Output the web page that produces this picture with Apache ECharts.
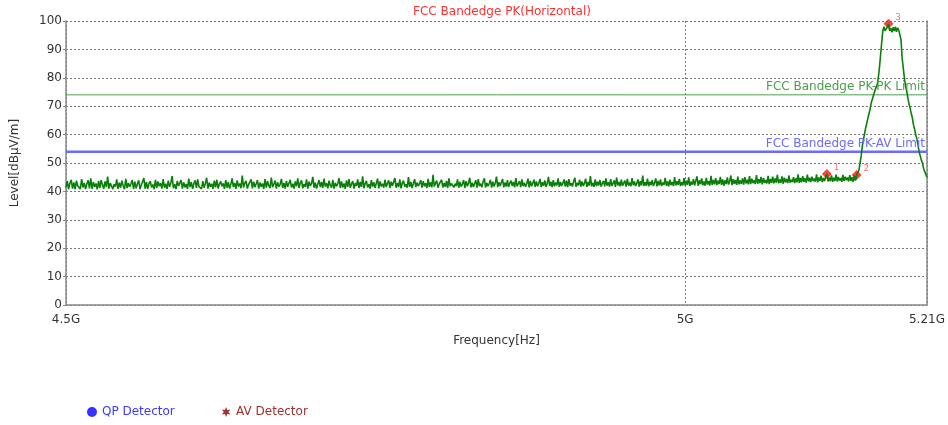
<!DOCTYPE html>
<html>
<head>
<meta charset="utf-8">
<title>FCC Bandedge PK(Horizontal)</title>
<script src="https://cdn.jsdelivr.net/npm/echarts@6/dist/echarts.min.js"></script>
<style>
  html, body { margin: 0; padding: 0; background: #fff; }
  #chart { width: 948px; height: 425px; }
</style>
</head>
<body>
<div id="chart"></div>
<script>
// sweep: 4.5 GHz .. 5.21 GHz, 1 MHz per point
const sweepStart = 4.5e9;
const sweepStep = 1e6;

// trace levels in dBuV/m
const levels = [
  41.3, 43.6, 40.8, 42.9, 44.1, 41.0, 43.2, 40.7, 43.8, 41.9, 42.6, 40.9, 44.3, 41.4, 43.0, 40.8, 42.7, 43.9, 41.1, 44.6, 40.9, 43.3, 41.6, 42.8, 40.7,
  43.7, 41.2, 44.0, 42.3, 40.9, 43.5, 41.5, 45.2, 41.0, 42.9, 43.6, 40.8, 42.5, 41.7, 44.2, 40.9, 43.1, 41.3, 43.8, 42.0, 40.8, 44.4, 41.2, 43.0, 41.6,
  42.7, 44.0, 40.9, 43.4, 41.1, 42.6, 43.9, 40.8, 42.2, 41.5, 44.7, 41.0, 43.3, 40.9, 42.8, 43.6, 41.4, 42.4, 40.8, 44.1, 41.2, 43.5, 41.8, 42.9, 41.0,
  44.3, 41.3, 42.7, 40.9, 43.8, 41.6, 43.0, 45.4, 41.1, 42.5, 40.8, 43.7, 41.9, 42.9, 44.0, 41.0, 43.2, 41.4, 42.6, 40.9, 44.5, 41.5, 43.3, 40.9, 42.8,
  43.9, 41.2, 44.2, 41.7, 42.4, 40.9, 43.6, 41.3, 42.9, 44.8, 41.0, 43.1, 41.6, 42.7, 40.9, 43.8, 41.4, 44.1, 41.0, 42.6, 43.5, 41.8, 42.8, 40.9, 44.0,
  41.3, 43.3, 41.0, 42.5, 44.6, 41.5, 43.0, 40.9, 43.9, 41.7, 42.8, 41.1, 45.6, 41.4, 42.9, 43.7, 41.0, 42.4, 41.8, 44.2, 41.1, 43.4, 41.5, 42.7, 44.0,
  41.0, 43.1, 41.6, 42.8, 40.9, 44.3, 41.3, 43.6, 42.0, 41.2, 44.9, 41.5, 42.6, 43.8, 41.0, 43.2, 41.7, 42.5, 44.4, 41.2, 43.0, 41.0, 43.7, 41.6, 42.9,
  44.1, 41.4, 42.7, 41.0, 43.5, 41.8, 44.6, 41.2, 42.9, 43.9, 41.1, 42.6, 41.6, 44.2, 41.0, 43.4, 41.9, 42.8, 45.1, 41.3, 43.1, 41.0, 42.6, 44.0, 41.5,
  43.3, 41.2, 44.5, 41.7, 42.9, 41.1, 43.8, 42.1, 41.3, 44.1, 41.0, 43.0, 41.8, 42.7, 44.7, 41.2, 43.5, 41.4, 42.8, 40.9, 43.9, 41.6, 44.3, 41.3, 42.6,
  43.6, 41.0, 42.9, 41.9, 44.2, 41.2, 43.3, 41.6, 45.3, 41.1, 42.8, 43.7, 41.4, 42.5, 41.0, 44.0, 41.7, 43.2, 41.3, 42.9, 44.5, 41.1, 43.5, 41.8, 42.7,
  41.3, 44.1, 41.6, 42.8, 43.9, 41.2, 43.4, 41.9, 42.6, 44.7, 41.3, 43.0, 41.5, 44.2, 41.1, 42.9, 43.8, 41.7, 42.5, 41.3, 45.0, 41.6, 43.3, 41.2, 42.8,
  44.3, 41.5, 43.1, 41.9, 42.7, 44.0, 41.3, 43.6, 41.8, 42.9, 41.2, 44.4, 41.6, 43.2, 41.4, 45.8, 41.7, 42.9, 43.8, 41.3, 42.6, 41.9, 44.1, 41.4, 43.0,
  41.6, 43.7, 41.2, 44.6, 41.8, 42.8, 43.5, 41.4, 42.7, 41.9, 44.2, 41.3, 43.3, 41.7, 42.6, 44.0, 41.2, 43.6, 41.8, 42.9, 44.8, 41.4, 43.1, 41.6, 42.8,
  43.9, 41.3, 44.3, 41.9, 42.7, 41.5, 43.5, 44.6, 41.4, 43.0, 41.8, 42.8, 44.1, 41.3, 43.4, 41.7, 42.9, 45.2, 41.5, 43.2, 41.9, 42.6, 44.4, 41.4, 43.1,
  41.7, 44.0, 41.5, 42.9, 43.8, 41.9, 43.3, 41.4, 44.7, 41.8, 42.7, 43.6, 41.5, 44.2, 41.9, 43.0, 41.6, 42.8, 44.5, 41.4, 43.7, 41.8, 42.9, 44.1, 41.6,
  43.5, 41.8, 42.9, 44.4, 41.5, 43.2, 42.0, 43.9, 41.6, 42.8, 45.1, 41.9, 43.4, 41.5, 44.0, 41.8, 43.1, 42.1, 44.6, 41.6, 43.3, 41.9, 42.9, 44.2, 41.7,
  43.8, 41.5, 44.3, 42.0, 42.9, 41.7, 43.6, 44.8, 41.6, 43.0, 42.1, 44.1, 41.7, 43.5, 41.9, 42.8, 44.5, 41.6, 43.3, 42.0, 45.4, 41.8, 43.0, 41.6, 44.2,
  41.9, 43.4, 42.1, 44.0, 41.7, 42.9, 43.7, 41.8, 44.6, 42.0, 43.2, 41.7, 44.3, 41.9, 42.8, 43.9, 41.6, 44.9, 42.1, 43.3, 41.8, 44.1, 42.0, 42.9, 43.8,
  41.7, 44.4, 42.0, 43.1, 41.8, 44.7, 42.2, 43.5, 41.9, 42.9, 44.2, 41.7, 43.6, 42.1, 45.6, 41.9, 43.2, 42.0, 44.5, 41.8, 43.4, 42.2, 44.0, 41.9, 43.0,
  44.6, 41.8, 43.7, 42.1, 44.2, 41.9, 43.1, 42.3, 44.8, 42.0, 43.5, 41.8, 44.1, 42.2, 43.3, 41.9, 45.0, 42.1, 43.6, 42.3, 44.4, 41.9, 43.2, 42.1, 44.7,
  42.0, 43.8, 42.3, 44.9, 41.9, 43.4, 42.4, 44.3, 42.1, 43.7, 45.3, 42.0, 43.9, 42.5, 44.6, 42.2, 43.5, 42.0, 44.8, 42.4, 43.6, 42.1, 45.5, 42.3, 44.0,
  42.5, 44.7, 42.2, 43.8, 42.6, 45.1, 42.3, 44.2, 42.0, 43.9, 42.6, 44.9, 42.4, 43.6, 45.6, 42.2, 44.3, 42.7, 44.0, 42.3, 45.2, 42.5, 43.8, 42.7, 44.6,
  42.4, 45.0, 42.8, 44.1, 42.5, 45.4, 42.6, 44.5, 42.9, 43.9, 42.6, 45.7, 42.7, 44.3, 42.9, 45.1, 42.5, 44.7, 43.0, 44.0, 42.8, 45.5, 42.6, 44.4, 43.0,
  45.2, 42.8, 44.6, 43.1, 45.8, 42.9, 44.2, 43.0, 45.3, 42.7, 44.8, 43.2, 44.4, 42.9, 45.6, 43.1, 44.1, 43.3, 45.0, 42.9, 44.6, 43.2, 46.0, 43.0, 44.7,
  43.2, 45.4, 43.4, 44.6, 43.1, 45.9, 43.5, 44.8, 43.3, 45.2, 43.6, 44.5, 43.4, 46.0, 43.2, 44.9, 43.7, 45.5, 43.3, 44.7, 43.6, 45.3, 46.1, 43.5, 44.9,
  43.6, 45.6, 43.4, 44.8, 43.7, 45.9, 43.5, 45.1, 43.8, 44.7, 43.4, 45.8, 43.6, 45.2, 43.9, 44.9, 43.5, 45.7, 43.7, 45.0, 43.4, 45.6, 43.8, 45.8, 46.5,
  // carrier, 5.150 GHz onward
  47.5, 50.0, 52.5, 56.0, 56.5, 60.5, 62.5, 63.0, 66.0, 67.5,
  69.5, 71.5, 71.0, 74.0, 75.5, 76.0, 77.5, 80.0, 83.5, 88.0,
  92.5, 96.5, 98.0, 96.5, 97.0, 98.0, 99.0, 96.5, 97.5, 96.0,
  97.8, 96.5, 98.0, 96.2, 97.6, 96.8, 97.2, 93.5, 87.0, 83.5,
  80.0, 77.0, 75.5, 73.0, 71.0, 69.5, 67.5, 66.0, 63.5, 62.0,
  60.0, 58.5, 56.5, 54.0, 52.5, 51.0, 50.0, 48.0, 47.5, 46.0,
  45.0
];
const freqs = levels.map((_, i) => sweepStart + i * sweepStep);

const limitFreqs = [4.5e9, 5.21e9];
const pkLimit = [74, 74];
const avLimit = [54, 54];

const markerNames = ['1', '2', '3'];
const markerFreqs = [5.122e9, 5.148e9, 5.176e9];
const markerLevels = [46.1, 45.8, 99];

const xTicks = [4.5e9, 5e9, 5.21e9];

const chart = echarts.init(document.getElementById('chart'));

const gridLine = { show: true, lineStyle: { color: '#777', width: 1, type: [2, 2] } };
const font = 'DejaVu Sans, sans-serif';

function limitSeries(name, values, color, width) {
  return {
    name: name,
    type: 'line',
    symbol: 'circle',
    symbolSize: 0,
    showSymbol: true,
    silent: true,
    itemStyle: { color: color },
    lineStyle: { color: color, width: width },
    data: limitFreqs.map((f, i) => {
      const item = { value: [f, values[i]] };
      if (i === limitFreqs.length - 1) {
        item.label = {
          show: true, formatter: name, position: 'top', align: 'right',
          distance: 2, offset: [-2, 0], color: color, fontSize: 12, fontFamily: font
        };
      }
      return item;
    })
  };
}

const option = {
  animation: false,
  title: {
    text: 'FCC Bandedge PK(Horizontal)',
    left: 497, top: 1, textAlign: 'center',
    textStyle: { color: '#ff3030', fontSize: 12, fontWeight: 'normal', fontFamily: font }
  },
  grid: { left: 66, right: 20, top: 21, bottom: 120 },
  legend: {
    left: 82, top: 401,
    itemWidth: 10, itemHeight: 10, itemGap: 47,
    textStyle: { fontSize: 12, fontFamily: font },
    data: [
      { name: 'QP Detector', icon: 'circle', textStyle: { color: '#3a3aff' } },
      { name: 'AV Detector', icon: 'path://M5,0 L6.2,3 L9.3,2.5 L7.3,5 L9.3,7.5 L6.2,7 L5,10 L3.8,7 L0.7,7.5 L2.7,5 L0.7,2.5 L3.8,3 Z', textStyle: { color: '#a03030' } }
    ]
  },
  xAxis: {
    type: 'log',
    min: 4.5e9, max: 5.21e9,
    name: 'Frequency[Hz]',
    nameLocation: 'middle', nameGap: 30,
    nameTextStyle: { color: '#333', fontSize: 12, fontFamily: font },
    axisLine: { lineStyle: { color: '#888', width: 1.5 } },
    axisTick: { show: false, customValues: xTicks },
    axisLabel: {
      customValues: xTicks, color: '#333', fontSize: 12, fontFamily: font, margin: 9,
      formatter: v => +(v / 1e9).toFixed(2) + 'G'
    },
    splitLine: gridLine
  },
  yAxis: [{
    type: 'value',
    min: 0, max: 100, interval: 10,
    name: 'Level[dBµV/m]',
    nameLocation: 'middle', nameGap: 45,
    nameTextStyle: { color: '#333', fontSize: 12, fontFamily: font },
    axisLine: { show: true, lineStyle: { color: '#888', width: 1.5 } },
    axisTick: { show: true, length: 3, lineStyle: { color: '#888' } },
    axisLabel: { color: '#333', fontSize: 12, fontFamily: font, margin: 4 },
    splitLine: gridLine
  }, {
    type: 'value',
    position: 'right',
    min: 0, max: 100, interval: 10,
    axisLine: { show: true, lineStyle: { color: '#888', width: 1.5 } },
    axisTick: { show: false },
    axisLabel: { show: false },
    splitLine: { show: false }
  }],
  series: [
    limitSeries('FCC Bandedge PK-PK Limit', pkLimit, '#4aa04a', 1),
    limitSeries('FCC Bandedge PK-AV Limit', avLimit, '#6b6bff', 2.5),
    {
      name: 'Trace',
      type: 'line',
      showSymbol: false,
      symbol: 'none',
      lineStyle: { color: '#0a800a', width: 1.6 },
      data: freqs.map((f, i) => [f, levels[i]])
    },
    {
      name: 'Markers',
      type: 'scatter',
      symbol: 'diamond',
      symbolSize: 10,
      itemStyle: { color: '#ff1010' },
      label: {
        show: true, position: 'right', distance: 2, offset: [0, -6],
        color: '#ff4040', fontSize: 8, fontFamily: font,
        formatter: p => markerNames[p.dataIndex]
      },
      data: markerFreqs.map((f, i) => [f, markerLevels[i]])
    },
    { name: 'QP Detector', type: 'scatter', itemStyle: { color: '#0000ff' }, data: [] },
    { name: 'AV Detector', type: 'scatter', itemStyle: { color: '#8b0000' }, data: [] }
  ]
};

chart.setOption(option);
</script>
</body>
</html>
